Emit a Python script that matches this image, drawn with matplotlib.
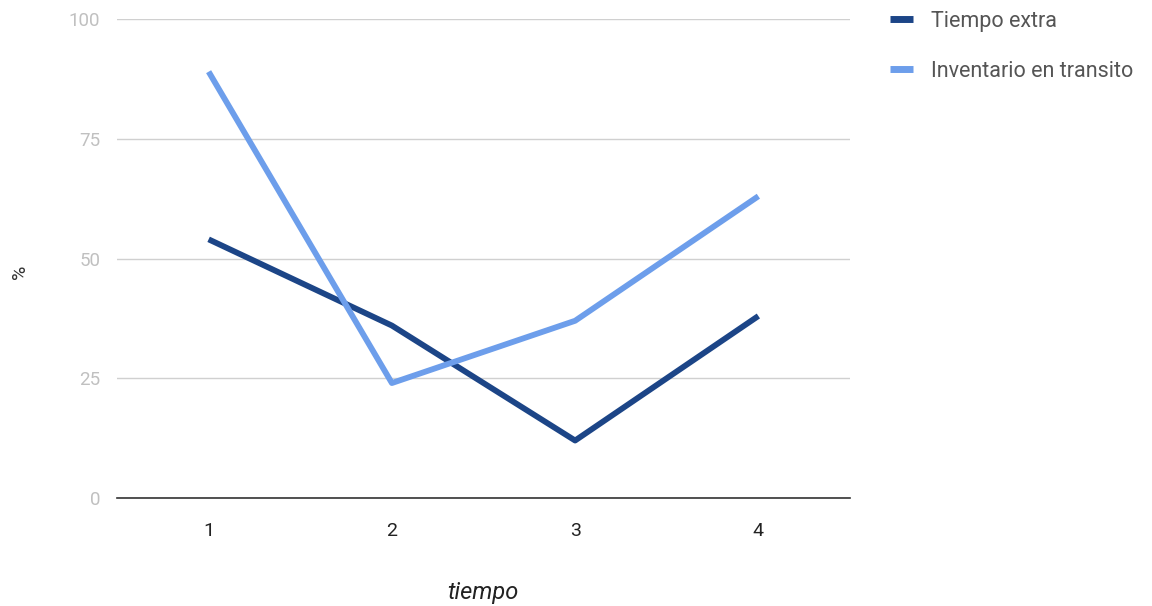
import matplotlib
matplotlib.use("Agg")
import matplotlib.pyplot as plt
from matplotlib.lines import Line2D

plt.rcParams["font.family"] = ["Roboto", "DejaVu Sans"]

tiempo = [1, 2, 3, 4]
tiempo_extra = [54, 36, 12, 38]
inventario_transito = [89, 24, 37, 63]
series = [("Tiempo extra", tiempo_extra, "#1c4587"),
          ("Inventario en transito", inventario_transito, "#6d9eeb")]
yticks = [0, 25, 50, 75, 100]

fig = plt.figure(figsize=(11.52, 6.06), dpi=100)
ax = fig.add_axes([117 / 1152, 1 - 498 / 606, (850 - 117) / 1152, (498 - 19) / 606])

for name, vals, color in series:
    ax.plot(tiempo, vals, color=color, lw=4.2, solid_capstyle="butt", label=name)

ax.set_xlim(0.5, 4.5)
ax.set_ylim(0, 100)
ax.set_yticks(yticks)
ax.set_xticks(tiempo)
ax.grid(axis="y", color="#d0d0d0", lw=1)
ax.set_axisbelow(True)
for s in ["top", "right", "left"]:
    ax.spines[s].set_visible(False)
ax.spines["bottom"].set_color("#333333")
ax.spines["bottom"].set_linewidth(1.2)
ax.tick_params(axis="both", length=0)
ax.tick_params(axis="y", labelsize=13.5, labelcolor="#c0c0c0", pad=12)
ax.tick_params(axis="x", labelsize=14, labelcolor="#222222", pad=17)

fig.text(20 / 1152, 1 - 272 / 606, "%", rotation=90, ha="center", va="center",
         fontsize=14, color="#333333")
fig.text(483 / 1152, 1 - 593 / 606, "tiempo", ha="center", va="center",
         fontsize=17, style="italic", color="#222222")

handles = [Line2D([0], [0], color=c, lw=5, solid_capstyle="butt") for _, _, c in series]
fig.legend(handles, [n for n, _, _ in series], loc="upper left",
           bbox_to_anchor=(890 / 1152, 1 - 11 / 606), frameon=False, fontsize=15.5,
           borderpad=0, borderaxespad=0,
           handlelength=1.05, handletextpad=0.85, labelspacing=1.33, labelcolor="#555555")

fig.savefig("out.png", dpi=100)
